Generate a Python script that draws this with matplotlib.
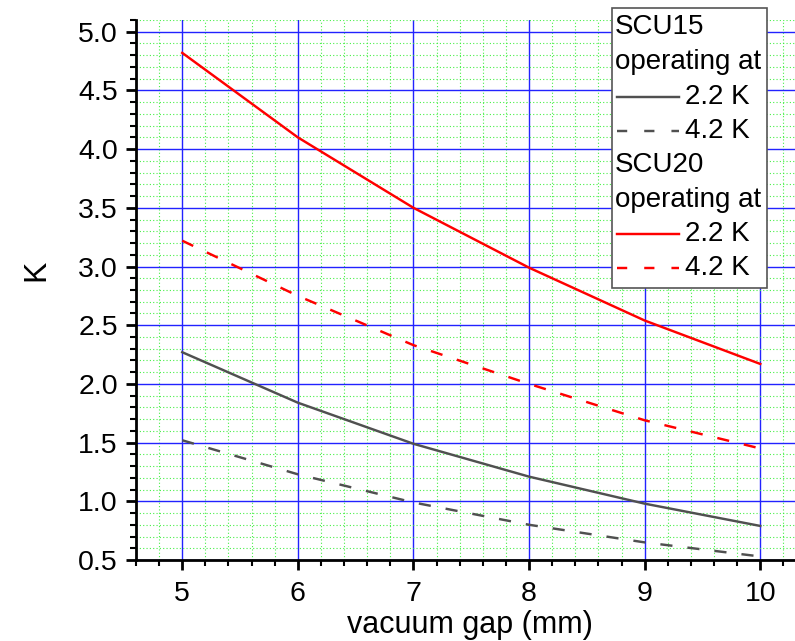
import matplotlib
matplotlib.use("Agg")
import matplotlib.pyplot as plt
from matplotlib.lines import Line2D
from matplotlib.patches import Rectangle
from matplotlib.ticker import MultipleLocator

plt.rcParams['font.family'] = ['Liberation Sans', 'DejaVu Sans']

gap_mm = [5, 6, 7, 8, 9, 10]
scu20_22k = [4.82, 4.10, 3.50, 2.99, 2.54, 2.17]
scu20_42k = [3.22, 2.75, 2.33, 2.00, 1.69, 1.45]
scu15_22k = [2.27, 1.84, 1.49, 1.21, 0.98, 0.79]
scu15_42k = [1.52, 1.23, 0.99, 0.80, 0.65, 0.53]

W, H = 795, 641
fig = plt.figure(figsize=(W / 100, H / 100), dpi=100)
ax = fig.add_axes([136 / W, 1 - 560 / H, (W - 136) / W, (560 - 20) / H])

red = '#ff0000'
gray = '#505050'
dash = (0, (5.0, 6.2))
lw = 1.75

ax.plot(gap_mm, scu15_22k, color=gray, lw=lw, zorder=3)
ax.plot(gap_mm, scu15_42k, color=gray, lw=lw, ls=dash, zorder=3)
ax.plot(gap_mm, scu20_22k, color=red, lw=lw, zorder=3)
ax.plot(gap_mm, scu20_42k, color=red, lw=lw, ls=dash, zorder=3)

ax.set_xlim(4.6, 10.3)
ax.set_ylim(0.5, 5.1)
ax.xaxis.set_major_locator(MultipleLocator(1))
ax.xaxis.set_minor_locator(MultipleLocator(0.2))
ax.yaxis.set_minor_locator(MultipleLocator(0.1))
ax.set_yticks([0.5, 1.0, 1.5, 2.0, 2.5, 3.0, 3.5, 4.0, 4.5, 5.0])
ax.set_yticklabels(['0.5', '1.0', '1.5', '2.0', '2.5', '3.0', '3.5', '4.0', '4.5', '5.0'])

ax.grid(which='minor', color='#33ee33', ls=(0, (1, 2)), lw=0.8, alpha=0.9)
ax.grid(which='major', color='#2222ff', ls='-', lw=1.0)
ax.set_axisbelow(True)

for s in ['top', 'right']:
    ax.spines[s].set_visible(False)
for s in ['left', 'bottom']:
    ax.spines[s].set_linewidth(2)
    ax.spines[s].set_color('black')

ax.tick_params(which='major', direction='out', length=7, width=2, labelsize=20.5, pad=6)
ax.tick_params(which='minor', direction='out', length=4, width=1.5)
ax.tick_params(axis='x', pad=8)

ax.set_ylabel('K', fontsize=23)
ax.set_xlabel('vacuum gap (mm)', fontsize=22)
ax.yaxis.set_label_coords(-0.128, 0.537)
ax.xaxis.set_label_coords(0.507, -0.0925)


def fx(px):
    return px / W


def fy(py):
    return 1 - py / H


# legend box drawn in figure coordinates
box = Rectangle((fx(612), fy(288)), fx(767) - fx(612), fy(8) - fy(288),
                transform=fig.transFigure, facecolor='white',
                edgecolor='#555555', lw=1.2, zorder=10)
fig.patches.append(box)

rows = [27, 62, 97, 131, 165, 200, 234, 268]
entries = [
    ('SCU15', None, None),
    ('operating at', None, None),
    ('2.2 K', gray, '-'),
    ('4.2 K', gray, (0, (4.2, 7.0))),
    ('SCU20', None, None),
    ('operating at', None, None),
    ('2.2 K', red, '-'),
    ('4.2 K', red, (0, (4.2, 7.0))),
]
for yrow, (label, col, style) in zip(rows, entries):
    if col is None:
        fig.text(fx(615), fy(yrow), label, fontsize=20, va='center', ha='left', zorder=11)
    else:
        fig.lines.append(Line2D([fx(617), fx(679)], [fy(yrow), fy(yrow)],
                                transform=fig.transFigure, color=col, lw=lw,
                                ls=style, zorder=11))
        fig.text(fx(685), fy(yrow), label, fontsize=20, va='center', ha='left', zorder=11)

fig.savefig('out.png', dpi=100)
